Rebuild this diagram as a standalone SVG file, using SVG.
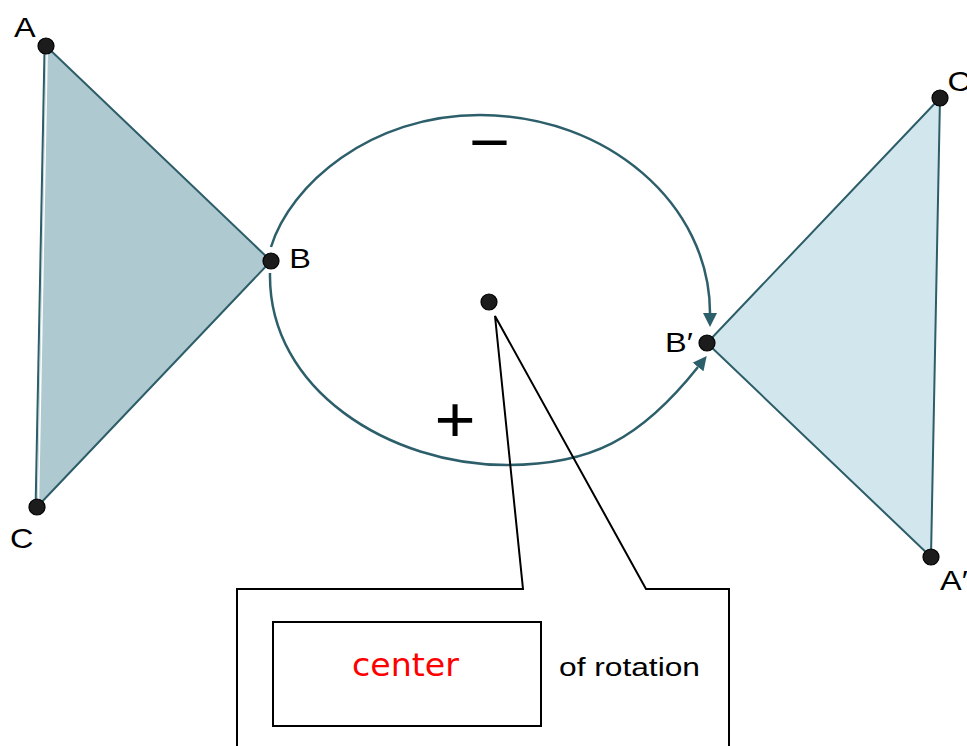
<svg xmlns="http://www.w3.org/2000/svg" width="967" height="746" viewBox="0 0 967 746">
  <defs>
    <style>
      .lbl { font-family: "Liberation Sans", Arial, sans-serif; font-size: 28px; fill: #000; }
      .sign { font-family: "Liberation Sans", Arial, sans-serif; font-size: 64px; fill: #000; text-anchor: middle; }
      .dot { fill: #1c1c1c; stroke: #000; stroke-width: 1.2; }
      .edge { stroke: #2c5d68; stroke-width: 2; stroke-linejoin: round; }
      .arc { stroke: #2d5f6b; stroke-width: 2.5; fill: none; }
      .call { stroke: #000; stroke-width: 2; fill: none; stroke-linejoin: miter; }
    </style>
    <marker id="ah" markerUnits="userSpaceOnUse" markerWidth="16" markerHeight="16" viewBox="0 -8 16 16" refX="0" refY="0" orient="auto">
      <path d="M0,-7 L14,0 L0,7 z" fill="#2d5f6b"/>
    </marker>
  </defs>
  <rect width="967" height="746" fill="#fff"/>

  <g id="triangle-ABC">
    <polygon points="46,46 271,261 37,507" fill="#aec9d0" stroke="none"/>
    <line x1="47.2" y1="48" x2="38.4" y2="505" stroke="#fff" stroke-width="1.5"/>
    <line x1="44.6" y1="46" x2="35.6" y2="507" stroke="#2c5d68" stroke-width="2"/>
    <polyline class="edge" points="46,46 271,261 37,507" fill="none"/>
  </g>

  <g id="triangle-ApBpCp">
    <polygon class="edge" points="940,98 707,343 931,557" fill="#d2e7ed"/>
  </g>

  <g id="connectors">
    <path id="arc-negative" class="arc" d="M271,247 C290,185 370,115 480,115 C607,115 710,204 710,313" marker-end="url(#ah)"/>
    <path id="arc-positive" class="arc" d="M270,273 C268,390 390,465 507,465 C590,465 640,440 698,367" marker-end="url(#ah)"/>
    <path id="callout-pointer" class="call" d="M237,746 V589 H523 L495,316 L646,589 H729 V746"/>
  </g>

  <g id="sign-minus"><text class="sign" transform="matrix(1.1 0 0 1 489.5 164)">−</text></g>
  <g id="sign-plus"><text class="sign" transform="matrix(1.1 0 0 1 455 442)">+</text></g>

  <g id="node-A">
    <circle class="dot" cx="46" cy="46" r="8"/>
    <text class="lbl" transform="matrix(1.16 0 0 1 14 37)">A</text>
  </g>
  <g id="node-B">
    <circle class="dot" cx="271" cy="261" r="8"/>
    <text class="lbl" transform="matrix(1.16 0 0 1 289.3 268)">B</text>
  </g>
  <g id="node-C">
    <circle class="dot" cx="37" cy="507" r="8"/>
    <text class="lbl" transform="matrix(1.16 0 0 1 10 548)">C</text>
  </g>
  <g id="node-Cp">
    <circle class="dot" cx="940" cy="98" r="8"/>
    <text class="lbl" transform="matrix(1.16 0 0 1 947.5 91)">C′</text>
  </g>
  <g id="node-Bp">
    <circle class="dot" cx="707" cy="343" r="8"/>
    <text class="lbl" transform="matrix(1.16 0 0 1 665 352)">B′</text>
  </g>
  <g id="node-Ap">
    <circle class="dot" cx="931" cy="557" r="8"/>
    <text class="lbl" transform="matrix(1.16 0 0 1 940 590)">A′</text>
  </g>
  <g id="node-center">
    <circle class="dot" cx="489" cy="302" r="8"/>
  </g>

  <g id="callout-label">
    <rect x="273" y="622" width="268" height="104" fill="none" stroke="#000" stroke-width="2"/>
    <text x="352" y="676" font-family="DejaVu Sans, sans-serif" font-size="32" fill="#ff0000" textLength="107" lengthAdjust="spacingAndGlyphs">center</text>
    <text x="559" y="676" font-family="Liberation Sans, Arial, sans-serif" font-size="26" fill="#000" textLength="141" lengthAdjust="spacingAndGlyphs">of rotation</text>
  </g>
</svg>
